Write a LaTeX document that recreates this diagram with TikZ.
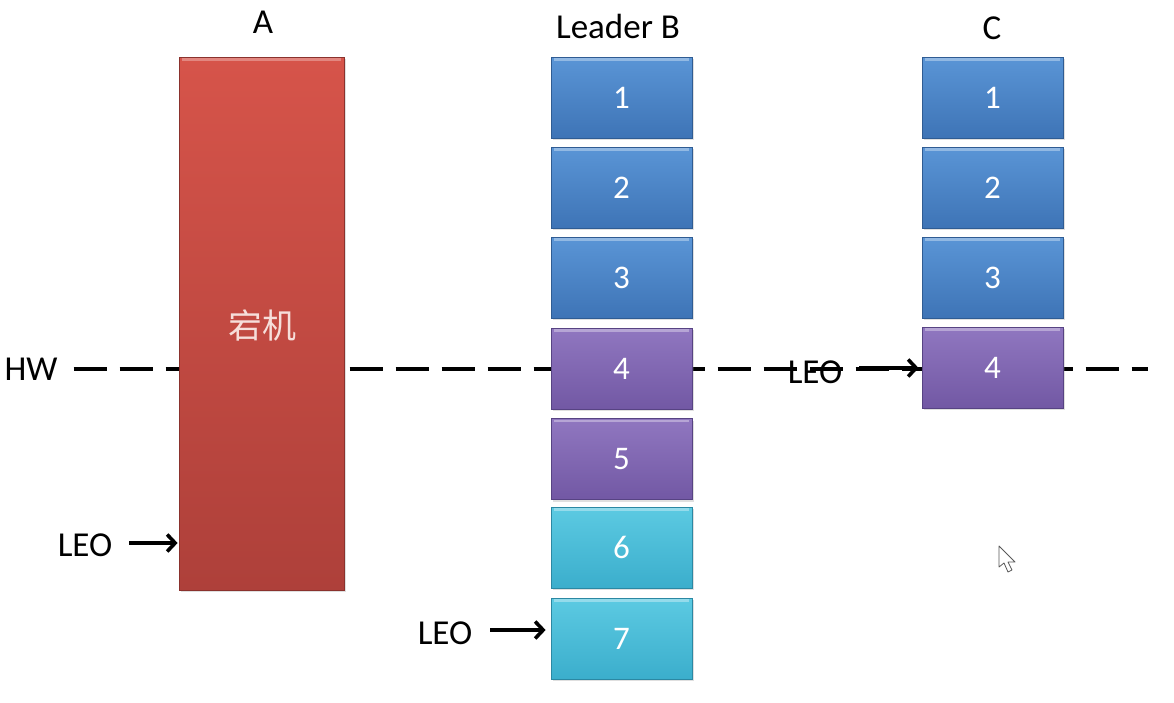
\documentclass[tikz,border=0pt]{standalone}
\usepackage{fontspec}
\setmainfont{Carlito}
\newfontfamily\cjk{Noto Sans CJK SC}
\usetikzlibrary{arrows.meta,shadows}
\definecolor{blueT}{HTML}{5A95D6}
\definecolor{blueB}{HTML}{3E74B6}
\definecolor{blueD}{HTML}{2F5C93}
\definecolor{purT}{HTML}{9077C0}
\definecolor{purB}{HTML}{7258A4}
\definecolor{purD}{HTML}{574383}
\definecolor{cyanT}{HTML}{5CCAE2}
\definecolor{cyanB}{HTML}{3BAECC}
\definecolor{cyanD}{HTML}{2B88A3}
\definecolor{redT}{HTML}{D6544A}
\definecolor{redB}{HTML}{AE403A}
\definecolor{redD}{HTML}{8A322D}
\definecolor{cjktext}{HTML}{F6DEDA}
\tikzset{
  cell/.style n args={3}{rectangle, inner sep=0pt, minimum width=141pt, minimum height=81pt,
    draw=#3, line width=0.8pt, top color=#1, bottom color=#2, text=white,
    font=\fontsize{33}{35}\selectfont,
    drop shadow={opacity=0.25, shadow xshift=1.5pt, shadow yshift=-2pt},
    path picture={\draw[white, opacity=0.35, line width=2.5pt]
      ([xshift=3pt,yshift=-2.5pt]path picture bounding box.north west) --
      ([xshift=-3pt,yshift=-2.5pt]path picture bounding box.north east);}},
  bluecell/.style={cell={blueT}{blueB}{blueD}},
  purcell/.style={cell={purT}{purB}{purD}},
  cyancell/.style={cell={cyanT}{cyanB}{cyanD}},
  lbl/.style={font=\fontsize{35}{38}\selectfont, text=black, inner sep=0pt},
  ptr/.style={line width=3.6pt, -{Straight Barb[length=8pt,width=17pt,line width=3.6pt]}},
  hwline/.style={line width=4pt, dash pattern=on 33pt off 13pt},
}
\begin{document}
\begin{tikzpicture}[x=1pt,y=-1pt]
\useasboundingbox[fill=white] (0,0) rectangle (1174,702);
% HW dashed line behind boxes
\node[lbl] (hw) at (31,369) {HW};
\coordinate (hwR) at (1148,369);
\draw[hwline] ([xshift=16pt]hw.east) -- (hwR);
% A
\node[lbl] (labA) at (263,22) {A};
\node[rectangle, inner sep=0pt, minimum width=165pt, minimum height=533pt,
  draw=redD, line width=0.8pt, top color=redT, bottom color=redB,
  drop shadow={opacity=0.25, shadow xshift=1.5pt, shadow yshift=-2pt},
  path picture={\draw[white, opacity=0.3, line width=2.5pt]
      ([xshift=3pt,yshift=-2.5pt]path picture bounding box.north west) --
      ([xshift=-3pt,yshift=-2.5pt]path picture bounding box.north east);}]
  (A) at (261.5,323.5) {};
\node[font=\cjk\fontsize{34}{36}\selectfont, text=cjktext, inner sep=0pt] (host) at (262,325) {宕机};
% Leader B
\node[lbl] (labB) at (618,26) {Leader B};
\node[bluecell] (b1) at (621.5,97.5) {1};
\node[bluecell] (b2) at (621.5,187.5) {2};
\node[bluecell] (b3) at (621.5,277.5) {3};
\node[purcell] (b4) at (621.5,368.5) {4};
\node[purcell] (b5) at (621.5,459) {5};
\node[cyancell] (b6) at (621.5,547.5) {6};
\node[cyancell] (b7) at (621.5,638.5) {7};
% C
\node[lbl] (labC) at (992,28) {C};
\node[bluecell] (c1) at (992.5,97.5) {1};
\node[bluecell] (c2) at (992.5,187.5) {2};
\node[bluecell] (c3) at (992.5,277.5) {3};
\node[purcell] (c4) at (992.5,367.5) {4};
% LEO pointers
\node[lbl] (leoA) at (85,545) {LEO};
\draw[ptr] ([xshift=17pt,yshift=2pt]leoA.east) -- ([xshift=-1pt,yshift=2pt]A.west |- leoA.east);
\node[lbl] (leoB) at (445,633) {LEO};
\draw[ptr] ([xshift=18pt,yshift=3pt]leoB.east) -- ([xshift=-5pt,yshift=3pt]b7.west |- leoB.east);
\node[lbl] (leoC) at (815,372) {LEO};
\draw[ptr] ([xshift=17pt,yshift=4pt]leoC.east) -- ([xshift=-3pt,yshift=4pt]c4.west |- leoC.east);
% mouse cursor
\draw[gray!70!black, line width=0.8pt, fill=white, line join=round]
  (999,546) -- (999,567) -- (1004,563) -- (1008,572) -- (1012,570) -- (1008,562) -- (1015,562) -- cycle;
\end{tikzpicture}
\end{document}
